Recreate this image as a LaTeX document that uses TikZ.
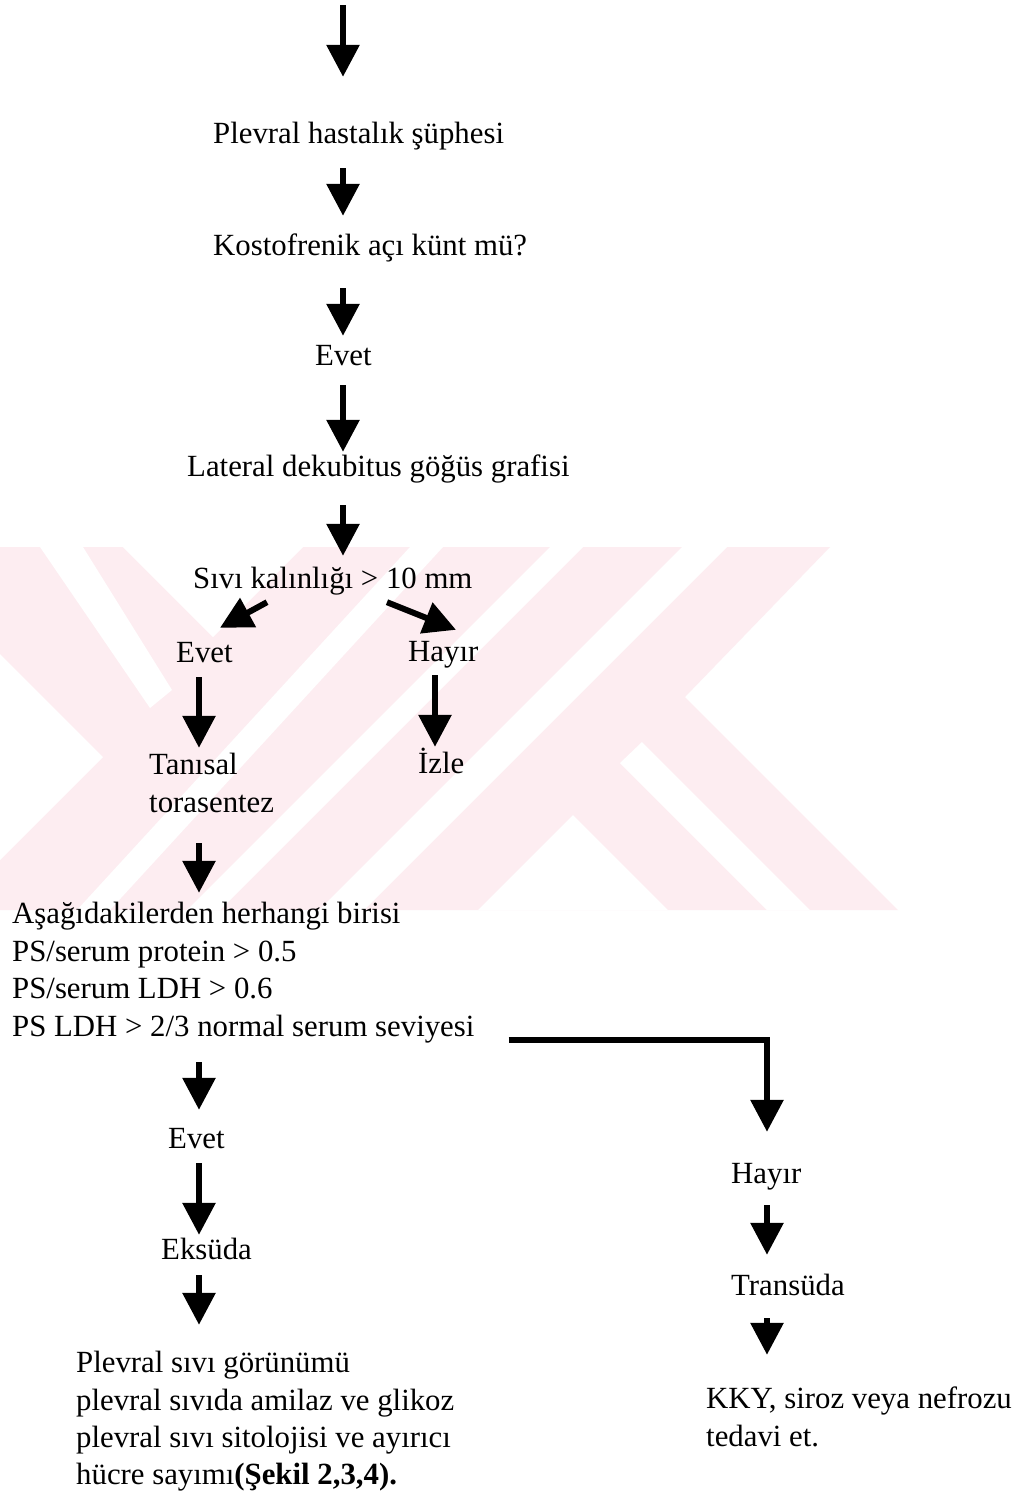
\documentclass[tikz,border=0pt]{standalone}
\usepackage{fontspec}
\setmainfont{Liberation Serif}
\usetikzlibrary{arrows.meta}
\definecolor{wmpink}{RGB}{253,237,241}
\tikzset{
  lbl/.style={anchor=base west, inner sep=0pt, text height=22pt, text depth=7pt,
              font=\fontsize{30.8}{37.7}\selectfont},
  arr/.style={line width=6pt, line join=miter, -{Triangle[width=32pt,length=32pt]}},
  emblem/.style={fill=wmpink},
  gap/.style={fill=white},
}
\begin{document}
\begin{tikzpicture}[x=1pt,y=-1pt]
\useasboundingbox (0,0) rectangle (1033,1491);
\fill[white] (0,0) rectangle (1033,1491);

% faint background emblem made of diagonal bands
\begin{scope}
  \clip (0,547) rectangle (1033,910);
  \fill[emblem] (0,547) -- (830,547) -- (685,697) -- (898,910) -- (0,910) -- cycle;
  \fill[gap] (0,654) -- (103,757) -- (0,860) -- cycle;
  \fill[gap] (40,547) -- (83,547) -- (172,690) -- (150,708) -- cycle;
  \fill[gap] (123,547) -- (213,637) -- (303,547) -- cycle;
  \fill[gap] (410,547) -- (443,547) -- (110,910) -- (77,910) -- cycle;
  \fill[gap] (550,547) -- (583,547) -- (220,910) -- (187,910) -- cycle;
  \fill[gap] (682,547) -- (727,547) -- (364,910) -- (319,910) -- cycle;
  \fill[gap] (620,763) -- (642,742) -- (810,910) -- (767,910) -- cycle;
  \fill[gap] (573,815) -- (668,910) -- (478,910) -- cycle;
\end{scope}

% vertical guide lines for the arrow columns
\coordinate (top) at (343,5);
\coordinate (sp)  at (343,0);
\coordinate (lsp) at (199,0);
\coordinate (hsp) at (435,0);
\coordinate (rsp) at (767,0);

% texts
\node[lbl] (plev) at (213,143)  {Plevral hastalık şüphesi};
\node[lbl] (kost) at (213,255)  {Kostofrenik açı künt mü?};
\node[lbl] (ev1)  at (315,365)  {Evet};
\node[lbl] (lat)  at (187,476)  {Lateral dekubitus göğüs grafisi};
\node[lbl] (siv)  at (193,588)  {Sıvı kalınlığı > 10 mm};
\node[lbl] (ev2)  at (176,662)  {Evet};
\node[lbl] (hay1) at (408,661)  {Hayır};
\node[lbl] (tan)  at (149,774)  {Tanısal};
\node[lbl] (tor)  at (149,812)  {torasentez};
\node[lbl] (izle) at (418,773)  {İzle};
\node[lbl] (q1)   at (12,923)   {Aşağıdakilerden herhangi birisi};
\node[lbl] (q2)   at (12,961)   {PS/serum protein > 0.5};
\node[lbl] (q3)   at (12,998)   {PS/serum LDH > 0.6};
\node[lbl] (q4)   at (12,1036)  {PS LDH > 2/3 normal serum seviyesi};
\node[lbl] (ev3)  at (168,1148) {Evet};
\node[lbl] (eks)  at (161,1259) {Eksüda};
\node[lbl] (p1)   at (76,1372)  {Plevral sıvı görünümü};
\node[lbl] (p2)   at (76,1410)  {plevral sıvıda amilaz ve glikoz};
\node[lbl] (p3)   at (76,1447)  {plevral sıvı sitolojisi ve ayırıcı};
\node[lbl] (p4)   at (76,1484)  {hücre sayımı\textbf{(Şekil 2,3,4).}};
\node[lbl] (hay2) at (731,1183) {Hayır};
\node[lbl] (trn)  at (731,1295) {Transüda};
\node[lbl] (kky1) at (706,1408) {KKY, siroz veya nefrozu};
\node[lbl] (kky2) at (706,1446) {tedavi et.};

% arrows
\draw[arr, shorten >=44pt] (top) -- (plev.north -| top);
\draw[arr, shorten <=18pt, shorten >=17pt] (plev.south -| sp) -- (kost.north -| sp);
\draw[arr, shorten <=26pt, shorten >=7pt]  (kost.south -| sp) -- (ev1.north -| sp);
\draw[arr, shorten <=13pt, shorten >=2pt]  (ev1.south -| sp)  -- (lat.north -| sp);
\draw[arr, shorten <=22pt, shorten >=10pt] (lat.south -| sp)  -- (siv.north -| sp);
\draw[arr] ([xshift=74pt,yshift=-7pt]siv.south west) -- ([xshift=44pt,yshift=12pt]ev2.north west);
\draw[arr] ([xshift=194pt,yshift=-7pt]siv.south west) -- ([xshift=48pt,yshift=9pt]hay1.north west);
\draw[arr, shorten <=8pt, shorten >=4pt]   (ev2.south -| lsp)  -- (tan.north -| lsp);
\draw[arr, shorten <=7pt, shorten >=4pt]   (hay1.south -| hsp) -- (izle.north -| hsp);
\draw[arr, shorten <=24pt, shorten >=8pt]  (tor.south -| lsp)  -- (q1.north -| lsp);
\draw[arr, shorten <=19pt, shorten >=16pt] (q4.south -| lsp)   -- (ev3.north -| lsp);
\draw[arr, shorten <=8pt, shorten >=2pt]   (ev3.south -| lsp)  -- (eks.north -| lsp);
\draw[arr, shorten <=9pt, shorten >=25pt]  (eks.south -| lsp)  -- (p1.north -| lsp);
\draw[arr, shorten >=29pt] ([xshift=34pt,yshift=-4pt]q4.base east) -| (hay2.north -| rsp);
\draw[arr, shorten <=15pt, shorten >=18pt] (hay2.south -| rsp) -- (trn.north -| rsp);
\draw[arr, shorten <=16pt, shorten >=31pt] (trn.south -| rsp)  -- (kky1.north -| rsp);
\end{tikzpicture}
\end{document}
